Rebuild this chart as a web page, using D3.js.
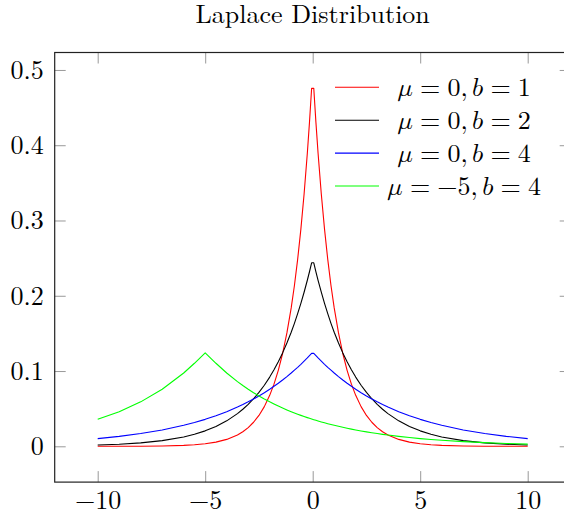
<!DOCTYPE html>
<html>
<head>
<meta charset="utf-8">
<script src="https://cdn.jsdelivr.net/npm/d3@7"></script>
<style>
  body { margin: 0; background: #fff; }
  svg { display: block; font-family: "Latin Modern Roman", "Liberation Serif", serif; }
</style>
</head>
<body>
<svg id="chart" width="564" height="516"></svg>
<script>
var chartTitle = "Laplace Distribution";

// sample positions shared by all curves
var xs = [-10, -9, -8, -7, -6, -5.5, -5, -4.5, -4, -3.5, -3.25, -3, -2.75, -2.5, -2.25, -2,
    -1.8, -1.6, -1.4, -1.2, -1, -0.85, -0.7, -0.55, -0.4, -0.25, -0.15, -0.05,
    0.05, 0.15, 0.25, 0.4, 0.55, 0.7, 0.85, 1, 1.2, 1.4, 1.6, 1.8,
    2, 2.25, 2.5, 2.75, 3, 3.25, 3.5, 4, 4.5, 5, 5.5, 6, 7, 8, 9, 10];

// mu = 0, b = 1
var redValues = [0.00002, 0.00006, 0.00017, 0.00046, 0.00124, 0.00204, 0.00337, 0.00555,
    0.00916, 0.0151, 0.01939, 0.0249, 0.03197, 0.0410, 0.0527, 0.0677,
    0.0826, 0.1009, 0.1233, 0.1506, 0.1839, 0.2137, 0.2483, 0.2885, 0.3352, 0.3894, 0.4304, 0.4756,
    0.4756, 0.4304, 0.3894, 0.3352, 0.2885, 0.2483, 0.2137, 0.1839, 0.1506, 0.1233, 0.1009, 0.0826,
    0.0677, 0.0527, 0.0410, 0.03197, 0.0249, 0.01939, 0.0151, 0.00916, 0.00555, 0.00337, 0.00204,
    0.00124, 0.00046, 0.00017, 0.00006, 0.00002];

// mu = 0, b = 2
var blackValues = [0.00168, 0.00278, 0.00458, 0.00755, 0.01245, 0.01598, 0.02052, 0.02635,
    0.03383, 0.04344, 0.04923, 0.05578, 0.0632, 0.07163, 0.08117, 0.09197,
    0.1016, 0.1123, 0.1241, 0.1372, 0.1516, 0.1634, 0.1762, 0.1899, 0.2047, 0.2206, 0.2319, 0.2438,
    0.2438, 0.2319, 0.2206, 0.2047, 0.1899, 0.1762, 0.1634, 0.1516, 0.1372, 0.1241, 0.1123, 0.1016,
    0.09197, 0.08117, 0.07163, 0.0632, 0.05578, 0.04923, 0.04344, 0.03383, 0.02635, 0.02052, 0.01598,
    0.01245, 0.00755, 0.00458, 0.00278, 0.00168];

// mu = 0, b = 4
var blueValues = [0.01026, 0.01318, 0.01692, 0.02172, 0.02789, 0.0316, 0.03581, 0.04058,
    0.04598, 0.05211, 0.05547, 0.05905, 0.06285, 0.06691, 0.07122, 0.07582,
    0.0797, 0.08379, 0.08809, 0.0926, 0.09735, 0.1011, 0.1049, 0.1089, 0.1131, 0.1174, 0.1204, 0.1234,
    0.1234, 0.1204, 0.1174, 0.1131, 0.1089, 0.1049, 0.1011, 0.09735, 0.0926, 0.08809, 0.08379, 0.0797,
    0.07582, 0.07122, 0.06691, 0.06285, 0.05905, 0.05547, 0.05211, 0.04598, 0.04058, 0.03581, 0.0316,
    0.02789, 0.02172, 0.01692, 0.01318, 0.01026];

// mu = -5, b = 4
var greenValues = [0.03581, 0.04598, 0.05905, 0.07582, 0.09735, 0.1103, 0.1242, 0.1103,
    0.09735, 0.0859, 0.0807, 0.07582, 0.07122, 0.06691, 0.06285, 0.05905,
    0.05617, 0.05343, 0.05082, 0.04834, 0.04598, 0.04429, 0.04266, 0.04109, 0.03958, 0.03812, 0.03717, 0.03626,
    0.03537, 0.0345, 0.03364, 0.0324, 0.03121, 0.03006, 0.02896, 0.02789, 0.02653, 0.02524, 0.024, 0.02284,
    0.02172, 0.0204, 0.01917, 0.01801, 0.01692, 0.01589, 0.01493, 0.01318, 0.01163, 0.01026, 0.00906,
    0.00799, 0.00622, 0.00485, 0.00377, 0.00294];

var mus = [0, 0, 0, -5];
var bs = [1, 2, 4, 4];
var xTicks = [-10, -5, 0, 5, 10];
var yTicks = [0, 0.1, 0.2, 0.3, 0.4, 0.5];

var seriesColors = ["#ff0000", "#000000", "#0000ff", "#00ff00"];

function buildSeries() {
    return [redValues, blackValues, blueValues, greenValues].map(function (vals, i) {
        return {
            mu: mus[i],
            b: bs[i],
            color: seriesColors[i],
            points: xs.map(function (x, j) { return { x: x, y: vals[j] }; })
        };
    });
}

function drawChart() {
    var series = buildSeries();
    var svg = d3.select("#chart");
    var fontSize = 26, tickLen = 11;
    var textFont = "'Latin Modern Roman', 'Liberation Serif', serif";
    var mathFont = "'Latin Modern Math', 'Latin Modern Roman', serif";

    // pgfplots style: 10% enlarged limits
    var x = d3.scaleLinear().domain([-12, 12]).range([54.7, 570.7]);
    var y = d3.scaleLinear().domain([-0.04756, 0.5232]).range([482.1, 52.5]);

    svg.append("rect").attr("width", 564).attr("height", 516).attr("fill", "#fff");

    svg.append("text")
        .attr("x", (x.range()[0] + x.range()[1]) / 2)
        .attr("y", 23)
        .attr("text-anchor", "middle")
        .attr("font-size", fontSize)
        .style("font-family", textFont)
        .text(chartTitle);

    var yFmt = function (d) { return d === 0 ? "0" : d3.format(".1f")(d); };

    var axes = [
        { ax: d3.axisBottom(x).tickValues(xTicks).tickFormat(d3.format("d")).tickPadding(8.5), t: "translate(0," + y.range()[0] + ")" },
        { ax: d3.axisTop(x).tickValues(xTicks).tickFormat(""), t: "translate(0," + y.range()[1] + ")" },
        { ax: d3.axisLeft(y).tickValues(yTicks).tickFormat(yFmt).tickPadding(11), t: "translate(" + x.range()[0] + ",0)" },
        { ax: d3.axisRight(y).tickValues(yTicks).tickFormat(""), t: "translate(" + x.range()[1] + ",0)" }
    ];
    axes.forEach(function (a) {
        var g = svg.append("g")
            .attr("transform", a.t)
            .call(a.ax.tickSizeInner(-tickLen).tickSizeOuter(0));
        g.select(".domain").remove();
        g.selectAll(".tick line").attr("stroke", "#999").attr("stroke-width", 1);
        g.selectAll(".tick text")
            .attr("fill", "#000")
            .attr("font-size", fontSize)
            .style("font-family", textFont);
    });

    svg.append("rect")
        .attr("x", x.range()[0])
        .attr("y", y.range()[1])
        .attr("width", x.range()[1] - x.range()[0])
        .attr("height", y.range()[0] - y.range()[1])
        .attr("fill", "none")
        .attr("stroke", "#222")
        .attr("stroke-width", 1.2);

    var lineFunc = d3.line()
        .x(function (d) { return x(d.x); })
        .y(function (d) { return y(d.y); });

    series.forEach(function (s) {
        svg.append("path")
            .attr("d", lineFunc(s.points))
            .attr("fill", "none")
            .attr("stroke", s.color)
            .attr("stroke-width", 1.1)
            .attr("stroke-linejoin", "round");
    });

    // legend, no frame; math set like TeX with thick spaces round "="
    var legend = svg.append("g").attr("transform", "translate(335,87.3)");
    var rowH = 32.9, thick = 7.2, thin = 4.3;
    series.forEach(function (s, i) {
        var row = legend.append("g").attr("transform", "translate(0," + (i * rowH) + ")");
        row.append("line")
            .attr("x1", 0).attr("x2", 44)
            .attr("y1", 0).attr("y2", 0)
            .attr("stroke", s.color)
            .attr("stroke-width", 1.1);
        var txt = row.append("text")
            .attr("x", 129)
            .attr("y", 9)
            .attr("text-anchor", "middle")
            .attr("font-size", fontSize)
            .style("font-family", mathFont);
        txt.append("tspan").text("\u{1D707}");
        txt.append("tspan").attr("dx", thick).text("=");
        txt.append("tspan").attr("dx", thick).text(d3.format("d")(s.mu) + ",");
        txt.append("tspan").attr("dx", thin).text("\u{1D44F}");
        txt.append("tspan").attr("dx", thick).text("=");
        txt.append("tspan").attr("dx", thick).text(String(s.b));
    });
}

drawChart();
</script>
</body>
</html>
